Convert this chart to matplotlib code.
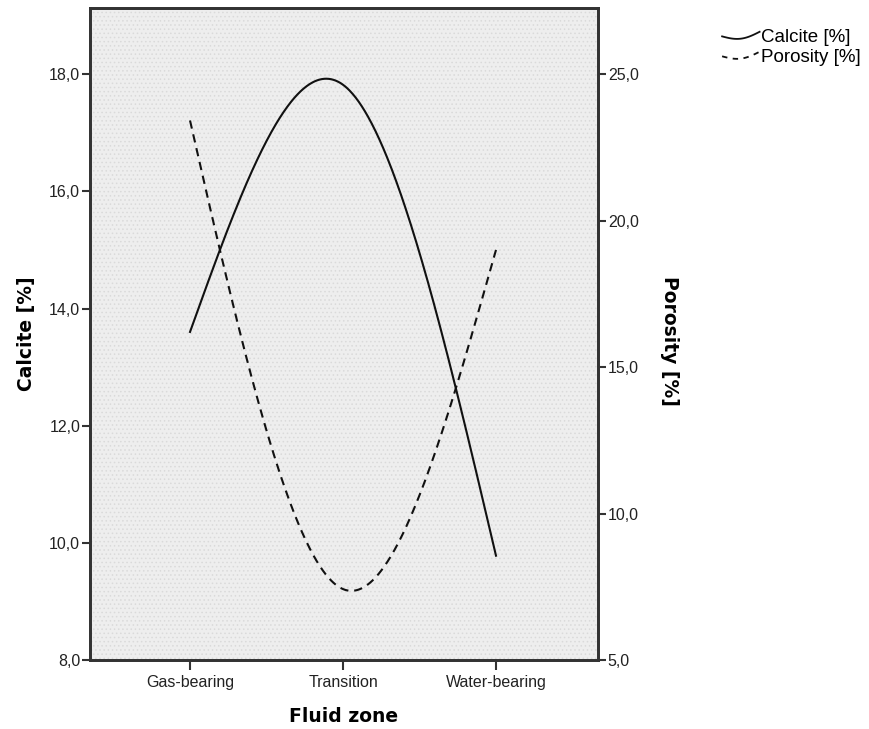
import numpy as np
import matplotlib
matplotlib.use("Agg")
import matplotlib.pyplot as plt
from matplotlib.lines import Line2D
from matplotlib.legend_handler import HandlerLine2D
from matplotlib.patches import Rectangle

plt.rcParams['font.family'] = ['Liberation Sans', 'DejaVu Sans']
plt.rcParams['hatch.linewidth'] = 0.6

categories = ["Gas-bearing", "Transition", "Water-bearing"]
calcite = [13.6, 17.82, 9.78]
porosity = [23.42, 7.42, 19.0]


def natural_spline(x, y, xs):
    x = np.asarray(x, float)
    y = np.asarray(y, float)
    n = len(x)
    h = np.diff(x)
    A = np.zeros((n, n))
    r = np.zeros(n)
    A[0, 0] = 1
    A[-1, -1] = 1
    for i in range(1, n - 1):
        A[i, i - 1] = h[i - 1]
        A[i, i] = 2 * (h[i - 1] + h[i])
        A[i, i + 1] = h[i]
        r[i] = 6 * ((y[i + 1] - y[i]) / h[i] - (y[i] - y[i - 1]) / h[i - 1])
    M = np.linalg.solve(A, r)
    out = np.empty_like(xs)
    for k, xv in enumerate(xs):
        i = int(np.clip(np.searchsorted(x, xv, side='right') - 1, 0, n - 2))
        t0 = x[i + 1] - xv
        t1 = xv - x[i]
        hi = h[i]
        out[k] = (M[i] * t0 ** 3 / (6 * hi) + M[i + 1] * t1 ** 3 / (6 * hi)
                  + (y[i] / hi - M[i] * hi / 6) * t0
                  + (y[i + 1] / hi - M[i + 1] * hi / 6) * t1)
    return out


class CurvyHandler(HandlerLine2D):
    """Legend key drawn as a small wavy stroke."""
    def create_artists(self, legend, orig_handle, xdescent, ydescent,
                       width, height, fontsize, trans):
        t = np.linspace(0, 1, 30)
        xd = -xdescent + width * t
        yd = (height / 2 - ydescent) + height * (-0.35 * np.sin(np.pi * t) + 0.35 * t - 0.05)
        line = Line2D(xd, yd)
        self.update_prop(line, orig_handle, legend)
        line.set_transform(trans)
        return [line]


xpos = np.arange(len(categories))
xs = np.linspace(0, len(categories) - 1, 400)

fig = plt.figure(figsize=(8.7, 7.29), dpi=100)
ax = fig.add_axes([0.1034, 0.0947, 0.5840, 0.8943])
ax.set_facecolor('#eeeeee')
ax.add_patch(Rectangle((0, 0), 1, 1, transform=ax.transAxes, facecolor='none',
                       edgecolor='#dadada', hatch='....', lw=0, zorder=0))
ax2 = ax.twinx()

ax.plot(xs, natural_spline(xpos, calcite, xs), color='#111111', lw=1.5)
ax2.plot(xs, natural_spline(xpos, porosity, xs), color='#111111', lw=1.5,
         linestyle=(0, (4, 2.8)), dash_capstyle='butt')

ax.set_xlim(-0.654, 2.667)
ax.set_ylim(8.0, 19.13)
ax2.set_ylim(5.0, 27.26)

left_ticks = [8, 10, 12, 14, 16, 18]
right_ticks = [5, 10, 15, 20, 25]
ax.set_yticks(left_ticks)
ax.set_yticklabels([f"{v:.1f}".replace('.', ',') for v in left_ticks])
ax2.set_yticks(right_ticks)
ax2.set_yticklabels([f"{v:.1f}".replace('.', ',') for v in right_ticks])
ax.set_xticks(xpos)
ax.set_xticklabels(categories)

for a in (ax, ax2):
    a.tick_params(axis='both', direction='out', length=6, width=1.5,
                  labelsize=11.5, colors='#333333', labelcolor='#222222', pad=1)
    for s in a.spines.values():
        s.set_linewidth(2.0)
        s.set_color('#333333')
ax.tick_params(axis='x', length=7, pad=4)

ax.set_xlabel("Fluid zone", fontsize=13.5, fontweight='bold',
              family=['DejaVu Sans'], va='center')
ax.xaxis.set_label_coords(0.5, -0.087)
ax.set_ylabel("Calcite [%]", fontsize=13.5, fontweight='bold',
              family=['DejaVu Sans'], va='center')
ax.yaxis.set_label_coords(-0.125, 0.5)
ax2.set_ylabel("Porosity [%]", fontsize=13.5, fontweight='bold', rotation=-90,
               family=['DejaVu Sans'], va='center')
ax2.yaxis.set_label_coords(1.14, 0.49)

handles = [Line2D([], [], color='#111111', lw=1.3),
           Line2D([], [], color='#111111', lw=1.3, linestyle=(0, (3, 3)))]
fig.legend(handles, ["Calcite [%]", "Porosity [%]"], loc='upper left',
           bbox_to_anchor=(0.830, 0.96), frameon=False, fontsize=13.5,
           handlelength=2.0, handletextpad=0.1, labelspacing=0.15,
           borderaxespad=0, borderpad=0,
           handler_map={Line2D: CurvyHandler()})

fig.savefig("out.png", dpi=100)
